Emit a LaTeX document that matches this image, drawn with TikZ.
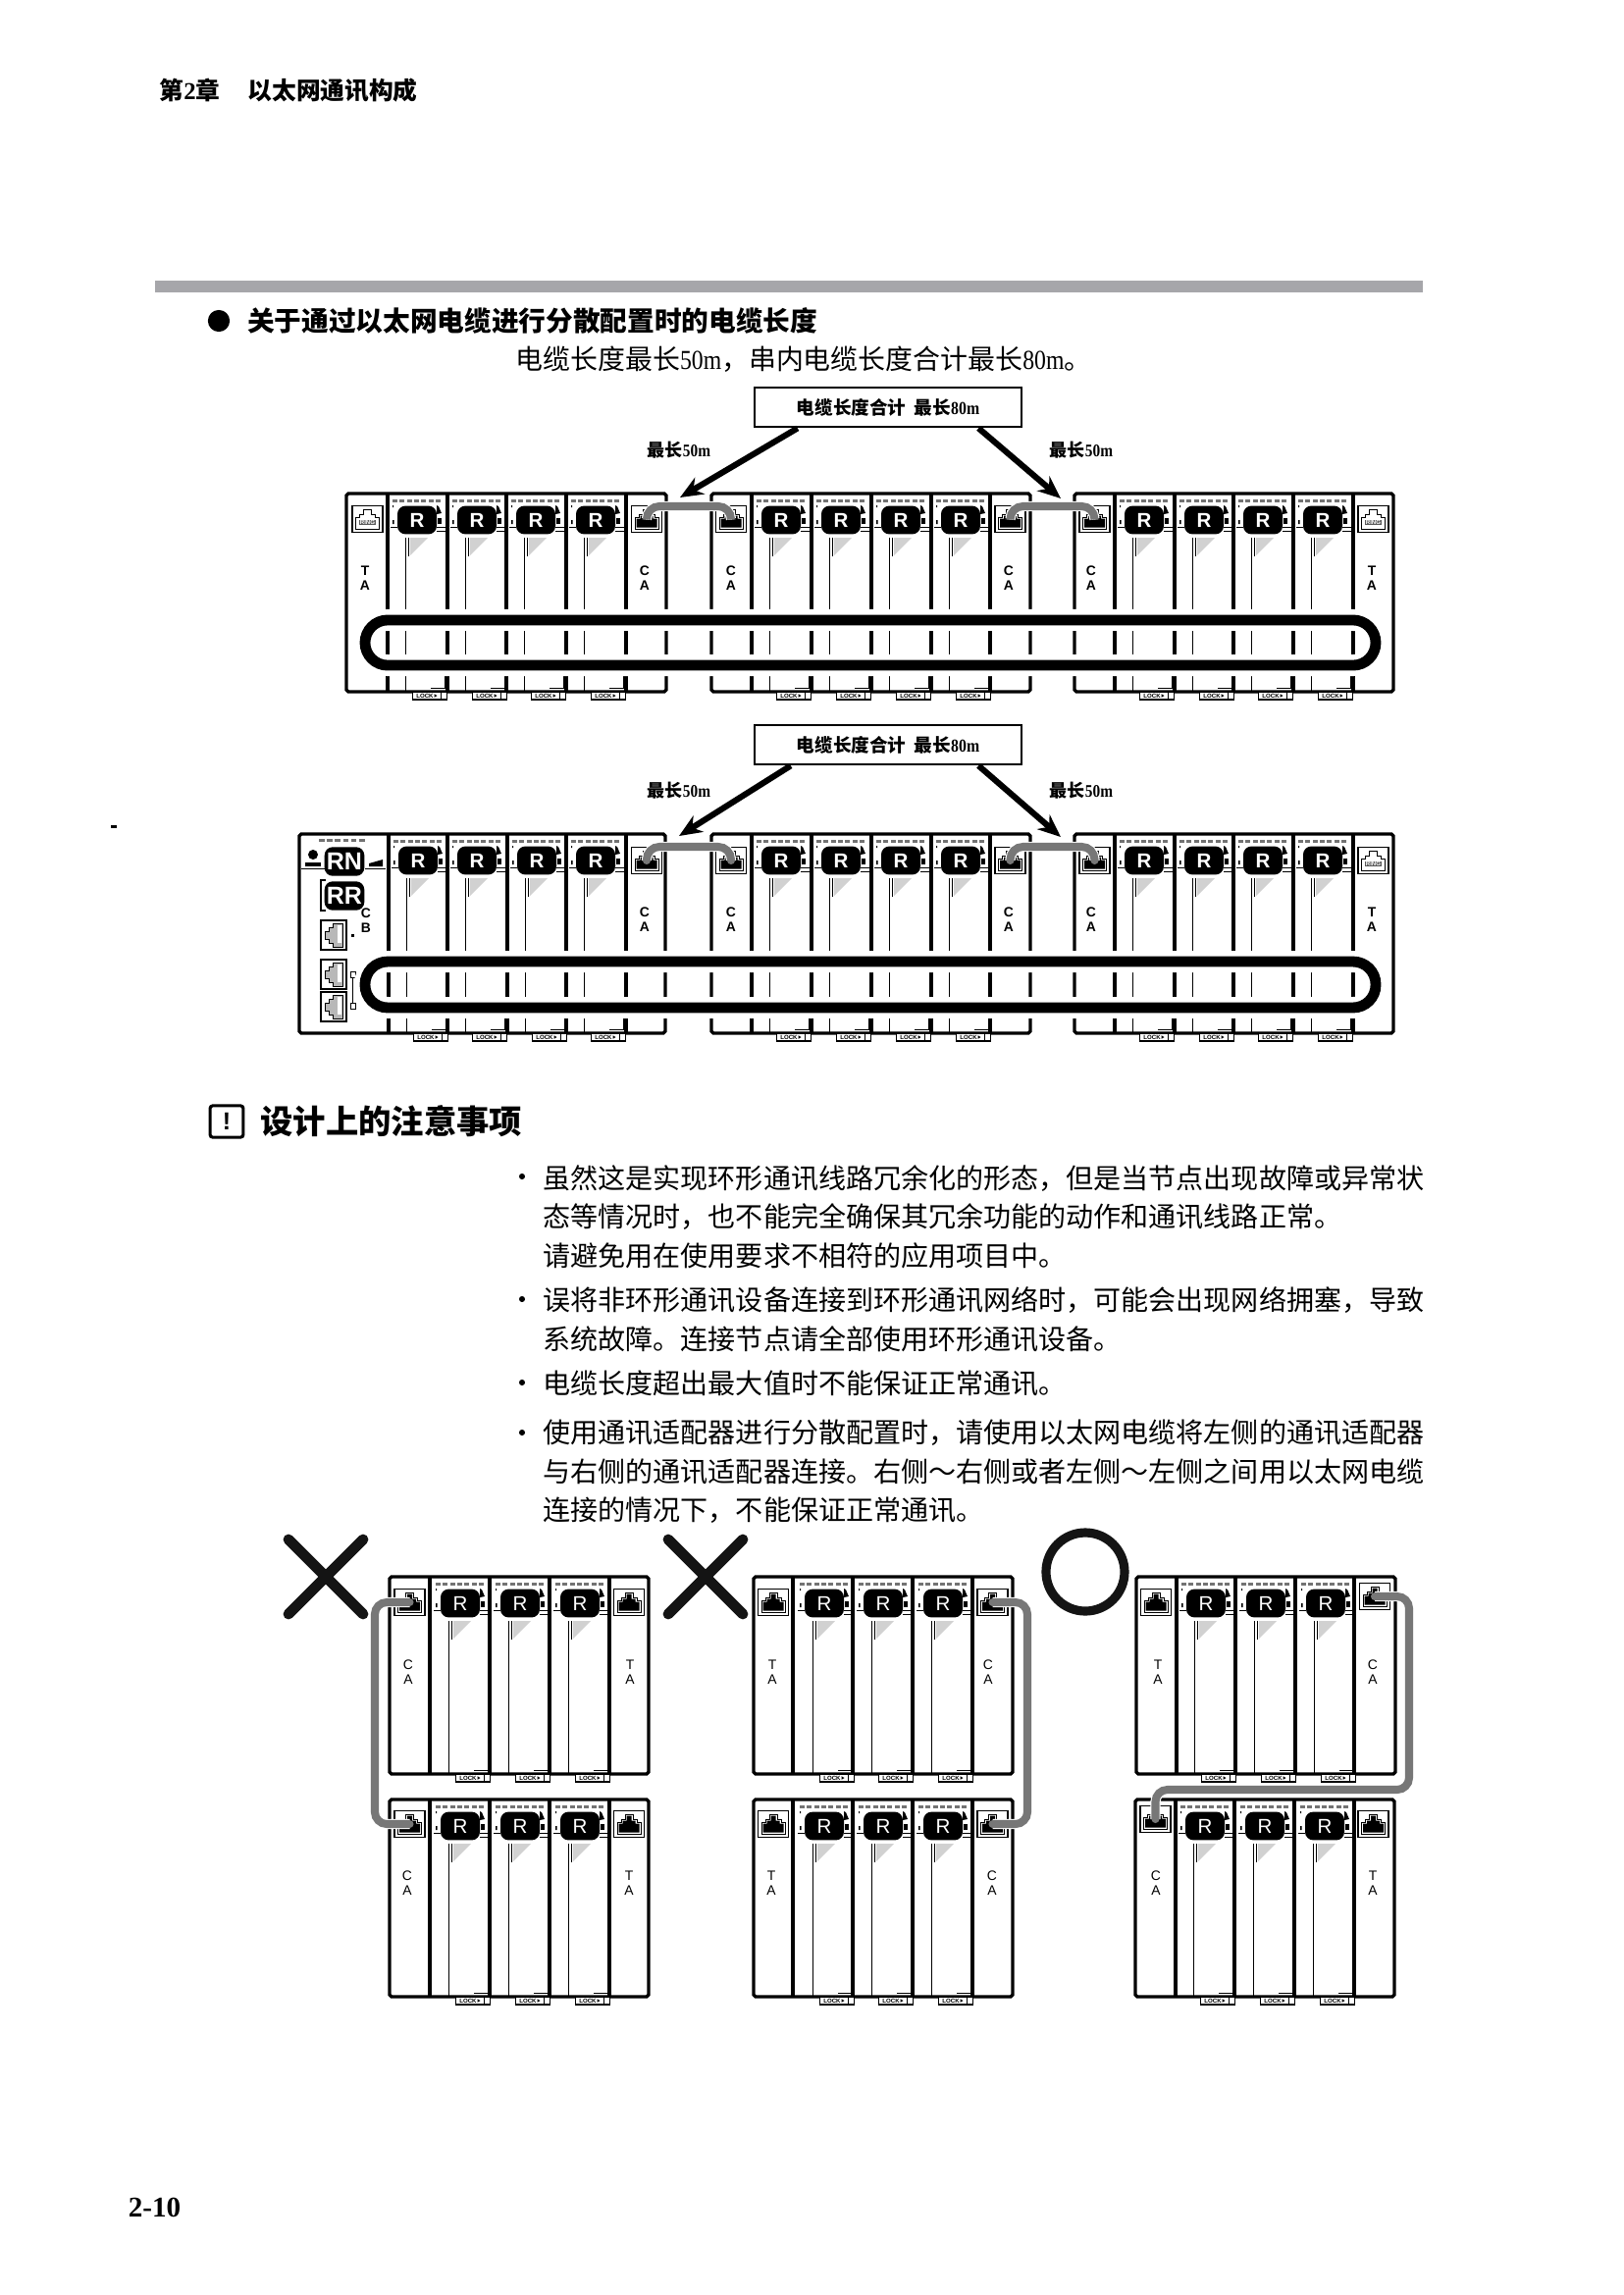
\documentclass[tikz,border=0pt]{standalone}
\usepackage{fontspec}
\setmainfont{Noto Sans CJK SC}
\setsansfont{Liberation Sans}
\newfontfamily\latfont[FakeStretch=0.85]{Liberation Serif}
\newfontfamily\pagefont{Liberation Serif}
\newcommand{\lat}[1]{{\latfont #1}}
\usetikzlibrary{arrows.meta,positioning,calc}
\definecolor{barlight}{HTML}{A6A6AA}
\definecolor{cablegray}{HTML}{777777}
\tikzset{
  chaphead/.style={inner sep=0pt, font=\fontsize{8.9}{10}\selectfont\bfseries},
  sechead/.style={inner sep=0pt, font=\fontsize{9.96}{12}\selectfont\bfseries},
  titlehead/.style={inner sep=0pt, font=\fontsize{12}{14}\selectfont\bfseries},
  bodyline/.style={inner sep=0pt, font=\fontsize{10.05}{12}\selectfont},
  notetext/.style={anchor=north west, inner sep=0pt, align=left, font=\fontsize{10.1}{14.2}\selectfont},
  notedot/.style={circle, fill=black, inner sep=0pt, minimum size=2.2pt},
  secdot/.style={circle, fill=black, inner sep=0pt, minimum size=8pt},
  noteicon/.style={rectangle, rounded corners=1pt, draw=black, line width=1.1pt, inner sep=0pt, minimum width=12.2pt, minimum height=11.6pt, font=\fontsize{9}{9}\selectfont\sffamily\bfseries},
  lenbox/.style={rectangle, draw=black, line width=0.8pt, fill=white, inner sep=0pt, minimum width=98pt, minimum height=14.6pt, font=\fontsize{6.7}{8}\selectfont\bfseries},
  lenlabel/.style={inner sep=0pt, font=\fontsize{6.5}{8}\selectfont\bfseries},
  lenarrow/.style={-{Stealth[length=8.4pt,width=7pt]}, line width=2.2pt},
  rackframe/.style={draw=black, line width=1.2pt, rounded corners=0.7pt},
  racksep/.style={draw=black, line width=1.45pt},
  thinwire/.style={draw=black, line width=0.35pt},
  ledmark/.style={fill=black!55},
  rbadge/.style={rectangle, rounded corners=3pt, fill=black, text=white, inner sep=0pt, minimum width=14.4pt, minimum height=10.4pt, font=\fontsize{7.4}{8}\selectfont\sffamily\bfseries},
  rbadgelight/.style={rbadge, font=\fontsize{7.4}{8}\selectfont\sffamily},
  modlabel/.style={inner sep=0pt, align=center, font=\fontsize{5}{5.4}\selectfont\sffamily\bfseries},
  modlabellight/.style={modlabel, font=\fontsize{5}{5.4}\selectfont\sffamily},
  portbox/.style={rectangle, draw=black, line width=0.6pt, fill=white, inner sep=0pt, minimum width=11.2pt, minimum height=9.8pt},
  sidebox/.style={rectangle, draw=black, line width=0.8pt, fill=white, inner sep=0pt, minimum width=9.2pt, minimum height=10.6pt},
  ringmark/.style={rectangle, fill=black!65, text=white, inner sep=0.2pt, font=\fontsize{2.2}{2.4}\selectfont\sffamily\bfseries},
  locktab/.style={rectangle, draw=black, line width=0.4pt, fill=white, inner sep=0pt, minimum width=12.9pt, minimum height=2.9pt},
  locktext/.style={inner sep=0pt, font=\fontsize{2.2}{2.4}\selectfont\sffamily\bfseries},
  ringband/.style={rectangle, draw=black, line width=3.9pt, rounded corners=8.3pt, inner sep=0pt, minimum width=370.8pt, minimum height=16.6pt, preaction={draw=white, line width=7.9pt}},
  cableline/.style={draw=cablegray, line width=2.9pt, line cap=round, preaction={draw=white, line width=3.7pt}},
  crossmark/.style={draw=black!92, line width=3.9pt, line cap=round},
  okmark/.style={circle, draw=black!92, line width=3.3pt, inner sep=0pt, minimum size=28.8pt}
}
% one R module: name, left x, top y, height
\newcommand{\modR}[5][rbadge]{%
  \begin{scope}[shift={(#3,#4)}]
    \foreach \k in {0,...,6} {\fill[ledmark] ({5+7.3*\k},6) rectangle ++(5,3);}
    \fill[black!18] (23,45) -- (41,45) -- (23,63) -- cycle;
    \draw[thinwire] (18,45) -- (18,#5);
    \draw[thinwire] (21.5,45) -- (21.5,64);
    \draw[thinwire] (3,34) -- (10,34) (50,34) -- (61,34) (50,38) -- (61,38);
    \fill (5,12) rectangle ++(1,2) (5,27) rectangle ++(1.5,4);
    \fill (50,12) -- (52,13) -- (55,20) -- (50,21) -- cycle;
    \fill (51,25) rectangle (55,31);
    \draw[thinwire] (58,#5-22) -- (58,#5-4) -- (44,#5-4);
    \node[#1] (#2) at (30,27) {R};
    \node[locktab] (#2tab) at (43,#5+4) {};
    \node[locktext] (#2lock) at (38,#5+4) {LOCK};
    \fill (47.5,#5+2.2) -- (50.5,#5+4) -- (47.5,#5+5.8) -- cycle;
    \draw[thinwire] (54,#5) -- (54,#5+8);
  \end{scope}}
% RJ45 port: black core or ring label
\newcommand{\portjack}[3]{%
  \node[portbox] (#1) at (#2,#3) {};
  \begin{scope}[shift={(#2,#3)}]
    \draw[thinwire] (-12,10) -- (-12,-2) -- (-8,-2) -- (-8,-5) -- (-4,-5) -- (-4,-10) -- (4,-10) -- (4,-5) -- (8,-5) -- (8,-2) -- (12,-2) -- (12,10) -- cycle;
    \fill (-10.5,8.5) -- (-10.5,-0.5) -- (-6.5,-0.5) -- (-6.5,-3.5) -- (-2.5,-3.5) -- (-2.5,-8.5) -- (2.5,-8.5) -- (2.5,-3.5) -- (6.5,-3.5) -- (6.5,-0.5) -- (10.5,-0.5) -- (10.5,8.5) -- cycle;
  \end{scope}}
\newcommand{\portring}[3]{%
  \node[portbox] (#1) at (#2,#3) {};
  \begin{scope}[shift={(#2,#3)}]
    \draw[thinwire] (-12,10) -- (-12,-2) -- (-8,-2) -- (-8,-5) -- (-4,-5) -- (-4,-10) -- (4,-10) -- (4,-5) -- (8,-5) -- (8,-2) -- (12,-2) -- (12,10) -- cycle;
    \node[ringmark] (#1txt) at (0,3.5) {RING};
  \end{scope}}
\newcommand{\portside}[3]{%
  \node[sidebox] (#1) at (#2,#3) {};
  \begin{scope}[shift={(#2,#3)}]
    \draw[fill=black!28, line width=0.35pt] (9,-12) -- (-1,-12) -- (-1,-8) -- (-5,-8) -- (-5,-4) -- (-9,-4) -- (-9,4) -- (-5,4) -- (-5,8) -- (-1,8) -- (-1,12) -- (9,12) -- cycle;
    \fill[white] (4,-10) rectangle (8,8);
  \end{scope}}
% rack outline with separators: left, top, right, bottom, separator list
\newcommand{\rackbody}[5]{%
  \draw[rackframe] (#1,#2) rectangle (#3,#4);
  \foreach \s in {#5} {\draw[racksep] (\s,#2) -- (\s,#4);}}
\begin{document}
\begin{tikzpicture}[x=0.36pt,y=-0.36pt]
\useasboundingbox (0,0) rectangle (1654,2339);
% page head
\node[chaphead, anchor=west] (chapno) at (162,92) {第{\pagefont 2}章};
\node[chaphead, anchor=west] (chaptitle) at (252,92) {以太网通讯构成};
\fill[barlight] (158,286) rectangle (1450,298);
\node[secdot] (headdot) at (223,327) {};
\node[sechead, right=6.1pt of headdot] (sectitle) {关于通过以太网电缆进行分散配置时的电缆长度};
\node[bodyline, anchor=west] (sectext) at (525,366) {电缆长度最长\lat{50m}，串内电缆长度合计最长\lat{80m}。};
\fill (113,841) rectangle (119,844);

% upper ring
\node[lenbox] (lentop) at (905,415) {电缆长度合计\ \ 最长\lat{80m}};
\node[lenlabel] (maxa) at (692,459) {最长\lat{50m}};
\node[lenlabel] (maxb) at (1102,459) {最长\lat{50m}};
\rackbody{353}{503}{679}{705}{395,456,516,577,638}
\rackbody{725}{503}{1050}{705}{766,827,888,949,1009}
\rackbody{1095}{503}{1420}{705}{1136,1197,1257,1318,1379}
\foreach \x in {395,456,516,577,766,827,888,949,1136,1197,1257,1318} {\modR{ra\x}{\x}{503}{202}}
\portring{tae}{374.5}{529}
\portjack{cafa}{659}{529}
\portjack{cafb}{745}{529}
\portjack{cafc}{1029.5}{529}
\portjack{cafd}{1115.5}{529}
\portring{taf}{1399.5}{529}
\node[modlabel] (lbta) at (372,589) {T\\A};
\node[modlabel] (lbca) at (657,589) {C\\A};
\node[modlabel] (lbcb) at (745,589) {C\\A};
\node[modlabel] (lbcc) at (1028,589) {C\\A};
\node[modlabel] (lbcd) at (1112,589) {C\\A};
\node[modlabel] (lbtb) at (1398,589) {T\\A};
\node[ringband] (ringa) at (887,655) {};
\draw[cableline, rounded corners=4.7pt] (cafa.center) |- ($(cafa.center)!.5!(cafb.center)+(0,-13)$) -| (cafb.center);
\draw[cableline, rounded corners=4.7pt] (cafc.center) |- ($(cafc.center)!.5!(cafd.center)+(0,-13)$) -| (cafd.center);
\coordinate (tipa) at (693,507);
\coordinate (tipb) at (1081,508);
\draw[lenarrow] ($(lentop.south west)+(45,0)$) -- (tipa);
\draw[lenarrow] ($(lentop.south east)+(-45,0)$) -- (tipb);

% lower ring with CB
\node[lenbox] (lenbot) at (905,759) {电缆长度合计\ \ 最长\lat{80m}};
\node[lenlabel] (maxc) at (692,806) {最长\lat{50m}};
\node[lenlabel] (maxd) at (1102,806) {最长\lat{50m}};
\rackbody{305}{850}{678}{1053}{396,456,517,577,638}
\rackbody{725}{850}{1050}{1053}{766,827,888,949,1009}
\rackbody{1095}{850}{1420}{1053}{1136,1197,1257,1318,1379}
\foreach \x in {396,456,517,577,766,827,888,949,1136,1197,1257,1318} {\modR{rb\x}{\x}{850}{203}}
\foreach \k in {0,...,5} {\fill[ledmark] ({325+8.2*\k},855) rectangle ++(5.5,3);}
\fill (319,871) circle (5);
\fill (311,879) rectangle (327,883);
\fill (376,880) -- (390,876) -- (390,883) -- (376,883) -- cycle;
\draw[thinwire] (307,885) -- (332,885) (372,885) -- (393,885);
\node[rbadge, minimum width=14.6pt, minimum height=10.6pt, font=\fontsize{9}{9}\selectfont\sffamily\bfseries] (rnb) at (351,878) {RN};
\node[rbadge, minimum width=14.6pt, minimum height=10.6pt, font=\fontsize{9}{9}\selectfont\sffamily\bfseries] (rrb) at (351,913) {RR};
\draw[line width=0.7pt] (332,897) -- (327,897) -- (327,928) -- (332,928);
\node[modlabel] (lbcbb) at (373,938) {C\\B};
\portside{cpa}{340}{953}
\portside{cpb}{340}{993}
\portside{cpc}{340}{1026}
\fill (358,952) rectangle (361,955);
\draw[thinwire] (359.5,996) -- (359.5,1022);
\draw[line width=0.35pt] (357,990) rectangle (362,996) (357,1022) rectangle (362,1028);
\portjack{caga}{659}{877}
\portjack{cagb}{745}{877}
\portjack{cagc}{1029.5}{877}
\portjack{cagd}{1115.5}{877}
\portring{tah}{1399.5}{877}
\node[modlabel] (lbce) at (657,937) {C\\A};
\node[modlabel] (lbcf) at (745,937) {C\\A};
\node[modlabel] (lbcg) at (1028,937) {C\\A};
\node[modlabel] (lbch) at (1112,937) {C\\A};
\node[modlabel] (lbtc) at (1398,937) {T\\A};
\node[ringband, minimum height=16.9pt] (ringb) at (887,1003.5) {};
\draw[cableline, rounded corners=4.7pt] (caga.center) |- ($(caga.center)!.5!(cagb.center)+(0,-14)$) -| (cagb.center);
\draw[cableline, rounded corners=4.7pt] (cagc.center) |- ($(cagc.center)!.5!(cagd.center)+(0,-14)$) -| (cagd.center);
\coordinate (tipc) at (692,852);
\coordinate (tipd) at (1081,853);
\draw[lenarrow] ($(lenbot.south west)+(38,0)$) -- (tipc);
\draw[lenarrow] ($(lenbot.south east)+(-45,0)$) -- (tipd);

% notes
\node[noteicon] (icon) at (231,1143) {!};
\node[titlehead, right=5.6pt of icon] (notehead) {设计上的注意事项};
\node[notetext] (notea) at (553,1187) {虽然这是实现环形通讯线路冗余化的形态，但是当节点出现故障或异常状\\态等情况时，也不能完全确保其冗余功能的动作和通讯线路正常。\\请避免用在使用要求不相符的应用项目中。};
\node[notetext, below=6.4pt of notea.south west, anchor=north west] (noteb) {误将非环形通讯设备连接到环形通讯网络时，可能会出现网络拥塞，导致\\系统故障。连接节点请全部使用环形通讯设备。};
\node[notetext, below=6.6pt of noteb.south west, anchor=north west] (notec) {电缆长度超出最大值时不能保证正常通讯。};
\node[notetext, below=8.1pt of notec.south west, anchor=north west] (noted) {使用通讯适配器进行分散配置时，请使用以太网电缆将左侧的通讯适配器\\与右侧的通讯适配器连接。右侧～右侧或者左侧～左侧之间用以太网电缆\\连接的情况下，不能保证正常通讯。};
\node[notedot] (dota) at (532,1199) {};
\node[notedot] (dotb) at (532,1324) {};
\node[notedot] (dotc) at (532,1409) {};
\node[notedot] (dotd) at (532,1460) {};

% wrong and right wiring
\coordinate (crossa) at (332,1607);
\coordinate (crossb) at (719,1607);
\draw[crossmark] ($(crossa)+(-38,-38)$) -- ($(crossa)+(38,38)$);
\draw[crossmark] ($(crossa)+(38,-38)$) -- ($(crossa)+(-38,38)$);
\draw[crossmark] ($(crossb)+(-38,-38)$) -- ($(crossb)+(38,38)$);
\draw[crossmark] ($(crossb)+(38,-38)$) -- ($(crossb)+(-38,38)$);
\node[okmark] (okc) at (1106,1602) {};

\rackbody{397}{1607}{661}{1808}{438,499,560,621}
\rackbody{397}{1834}{661}{2035}{438,499,560,621}
\foreach \x in {439,500,561} {\modR[rbadgelight]{rc\x}{\x}{1607}{201} \modR[rbadgelight]{rd\x}{\x}{1834}{201}}
\portjack{caia}{417.5}{1633}
\portjack{caib}{417.5}{1859}
\portjack{taia}{641}{1633}
\portjack{taib}{641}{1859}
\node[modlabellight] (lbci) at (416,1704) {C\\A};
\node[modlabellight] (lbcj) at (415,1919) {C\\A};
\node[modlabellight] (lbti) at (642,1704) {T\\A};
\node[modlabellight] (lbtj) at (641,1919) {T\\A};
\coordinate (benda) at (382,1746);
\draw[cableline, rounded corners=4.4pt] (caia.center) -| (benda) |- (caib.center);

\rackbody{768}{1607}{1032}{1808}{808,869,930,991}
\rackbody{768}{1834}{1032}{2035}{808,869,930,991}
\foreach \x in {810,870,931} {\modR[rbadgelight]{re\x}{\x}{1607}{201} \modR[rbadgelight]{rf\x}{\x}{1834}{201}}
\portjack{taka}{788}{1633}
\portjack{takb}{788}{1859}
\portjack{caka}{1011.5}{1633}
\portjack{cakb}{1011.5}{1859}
\node[modlabellight] (lbtk) at (787,1704) {T\\A};
\node[modlabellight] (lbtl) at (786,1919) {T\\A};
\node[modlabellight] (lbck) at (1007,1704) {C\\A};
\node[modlabellight] (lbcl) at (1011,1919) {C\\A};
\coordinate (bendb) at (1047,1746);
\draw[cableline, rounded corners=4.4pt] (caka.center) -| (bendb) |- (cakb.center);

\rackbody{1158}{1607}{1422}{1808}{1199,1259,1320,1380}
\rackbody{1157}{1834}{1421}{2035}{1198,1258,1319,1380}
\foreach \x in {1199,1260,1321} {\modR[rbadgelight]{rg\x}{\x}{1607}{201}}
\foreach \x in {1198,1259,1320} {\modR[rbadgelight]{rh\x}{\x}{1834}{201}}
\portjack{tama}{1178}{1633}
\portjack{camb}{1177.5}{1854}
\portjack{cama}{1401}{1627}
\portjack{tamb}{1399.5}{1859}
\node[modlabellight] (lbtm) at (1180,1704) {T\\A};
\node[modlabellight] (lbcm) at (1399,1704) {C\\A};
\node[modlabellight] (lbcn) at (1178,1919) {C\\A};
\node[modlabellight] (lbtn) at (1399,1919) {T\\A};
\coordinate (bendc) at (1436,1824);
\draw[cableline, rounded corners=4.4pt] (cama.center) -| (bendc) -| (camb.center);

\node[inner sep=0pt, font=\fontsize{10.5}{12}\selectfont\bfseries\pagefont] (pageno) at (157.5,2250) {2-10};
\end{tikzpicture}
\end{document}
